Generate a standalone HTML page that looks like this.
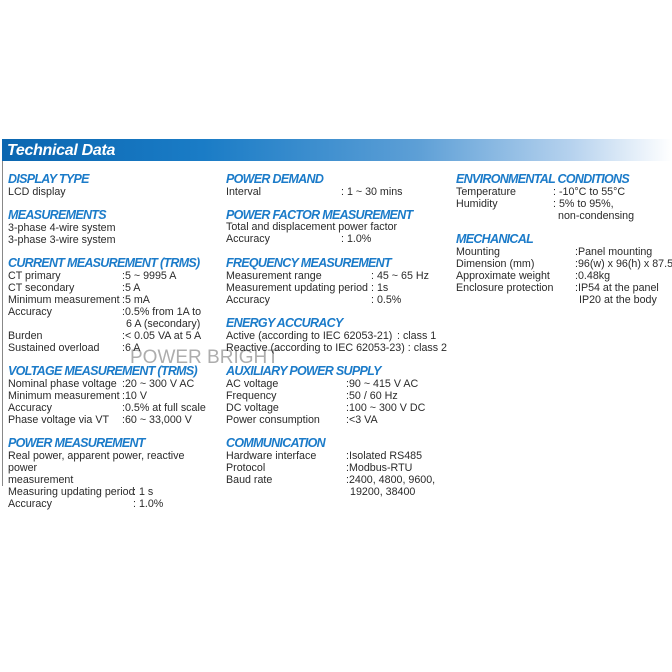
<!DOCTYPE html>
<html><head><meta charset="utf-8"><style>
body{margin:0;width:672px;height:672px;background:#fff;position:relative;overflow:hidden;font-family:"Liberation Sans",sans-serif;}
.t{position:absolute;font-size:10.7px;line-height:12px;color:#2a2a2a;white-space:nowrap;letter-spacing:0px}
.h{position:absolute;font-size:12.5px;line-height:14px;color:#1b7bc9;font-weight:bold;font-style:italic;white-space:nowrap;letter-spacing:-0.7px}
</style></head><body>
<div style="position:absolute;left:2px;top:139px;width:670px;height:22px;background:linear-gradient(to right,#0b66b0 0%,#1a7cc6 30%,#5d9fd6 62%,#b6d2ee 85%,#ffffff 100%)"></div>
<div style="position:absolute;left:7px;top:141px;font-size:16px;line-height:20px;color:#fff;font-weight:bold;font-style:italic;letter-spacing:-0.3px">Technical Data</div>
<div style="position:absolute;left:2px;top:161px;width:1px;height:325px;background:#888"></div>
<div style="position:absolute;left:130px;top:347px;font-size:19px;line-height:22px;color:#999;opacity:.8;letter-spacing:0px">POWER BRIGHT</div>
<div id="c"></div>
<script>
var d=[
['h',8,178,'DISPLAY TYPE'],['t',8,191,'LCD display'],
['h',8,214,'MEASUREMENTS'],['t',8,227,'3-phase 4-wire system'],['t',8,239,'3-phase 3-wire system'],
['h',8,262,'CURRENT MEASUREMENT (TRMS)'],
['t',8,275,'CT primary'],['t',122,275,':5 ~ 9995 A'],
['t',8,287,'CT secondary'],['t',122,287,':5 A'],
['t',8,299,'Minimum measurement'],['t',122,299,':5 mA'],
['t',8,311,'Accuracy'],['t',122,311,':0.5% from 1A to'],['t',126,323,'6 A (secondary)'],
['t',8,335,'Burden'],['t',122,335,':< 0.05 VA at 5 A'],
['t',8,347,'Sustained overload'],['t',122,347,':6 A'],
['h',8,370,'VOLTAGE MEASUREMENT (TRMS)'],
['t',8,383,'Nominal phase voltage'],['t',122,383,':20 ~ 300 V AC'],
['t',8,395,'Minimum measurement'],['t',122,395,':10 V'],
['t',8,407,'Accuracy'],['t',122,407,':0.5% at full scale'],
['t',8,419,'Phase voltage via VT'],['t',122,419,':60 ~ 33,000 V'],
['h',8,442,'POWER MEASUREMENT'],
['t',8,455,'Real power, apparent power, reactive'],['t',8,467,'power'],['t',8,479,'measurement'],
['t',8,491,'Measuring updating period'],['t',133,491,': 1 s'],
['t',8,503,'Accuracy'],['t',133,503,': 1.0%'],
['h',226,178,'POWER DEMAND'],['t',226,191,'Interval'],['t',341,191,': 1 ~ 30 mins'],
['h',226,214,'POWER FACTOR MEASUREMENT'],['t',226,226,'Total and displacement power factor'],['t',226,238,'Accuracy'],['t',341,238,': 1.0%'],
['h',226,262,'FREQUENCY MEASUREMENT'],
['t',226,275,'Measurement range'],['t',371,275,': 45 ~ 65 Hz'],
['t',226,287,'Measurement updating period'],['t',371,287,': 1s'],
['t',226,299,'Accuracy'],['t',371,299,': 0.5%'],
['h',226,322,'ENERGY ACCURACY'],
['t',226,335,'Active (according to IEC 62053-21)'],['t',397,335,': class 1'],
['t',226,347,'Reactive (according to IEC 62053-23) : class 2'],
['h',226,370,'AUXILIARY POWER SUPPLY'],
['t',226,383,'AC voltage'],['t',346,383,':90 ~ 415 V AC'],
['t',226,395,'Frequency'],['t',346,395,':50 / 60 Hz'],
['t',226,407,'DC voltage'],['t',346,407,':100 ~ 300 V DC'],
['t',226,419,'Power consumption'],['t',346,419,':<3 VA'],
['h',226,442,'COMMUNICATION'],
['t',226,455,'Hardware interface'],['t',346,455,':Isolated RS485'],
['t',226,467,'Protocol'],['t',346,467,':Modbus-RTU'],
['t',226,479,'Baud rate'],['t',346,479,':2400, 4800, 9600,'],['t',350,491,'19200, 38400'],
['h',456,178,'ENVIRONMENTAL CONDITIONS'],
['t',456,191,'Temperature'],['t',553,191,': -10°C to 55°C'],
['t',456,203,'Humidity'],['t',553,203,': 5% to 95%,'],['t',558,215,'non-condensing'],
['h',456,238,'MECHANICAL'],
['t',456,251,'Mounting'],['t',575,251,':Panel mounting'],
['t',456,263,'Dimension (mm)'],['t',575,263,':96(w) x 96(h) x 87.5(d)'],
['t',456,275,'Approximate weight'],['t',575,275,':0.48kg'],
['t',456,287,'Enclosure protection'],['t',575,287,':IP54 at the panel'],['t',579,299,'IP20 at the body']
];
var h='';d.forEach(function(r){var top=r[0]=='h'?r[2]-6:r[2]-5;h+='<div class="'+r[0]+'" style="left:'+r[1]+'px;top:'+top+'px">'+r[3]+'</div>';});
document.getElementById('c').innerHTML=h;
</script>
</body></html>
